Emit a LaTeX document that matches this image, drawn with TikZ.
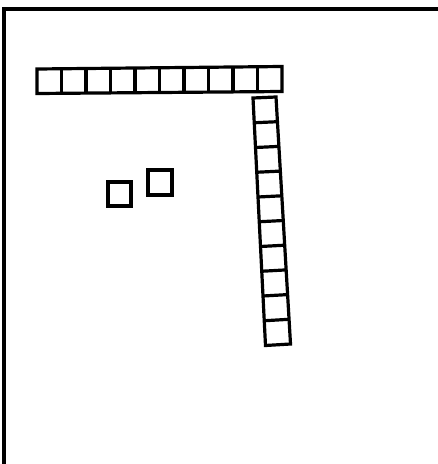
\documentclass[tikz,border=0pt]{standalone}
\usetikzlibrary{calc}
\begin{document}
\begin{tikzpicture}[x=1pt,y=-1pt,line join=miter,
  thick line/.style={line width=3.2pt,draw=black}]
\useasboundingbox (0,0) rectangle (438,464);
\fill[white] (0,0) rectangle (438,464);
% frame (right and bottom edges outside the page)
\draw[thick line] (4,480) -- (4,9) -- (450,9);
% horizontal bar
\coordinate (hA) at (37,69);
\coordinate (hB) at (282,66.5);
\coordinate (hC) at (282,91.5);
\coordinate (hD) at (37,93.5);
\draw[thick line] (hA) -- (hB) -- (hC) -- (hD) -- cycle;
\foreach \i in {1,...,9}{
  \draw[thick line] ($(hA)!\i/10!(hB)$) -- ($(hD)!\i/10!(hC)$);
}
% vertical bar
\coordinate (vA) at (253,98);
\coordinate (vB) at (276,97);
\coordinate (vC) at (290.5,344);
\coordinate (vD) at (265.5,345.5);
\draw[thick line] (vA) -- (vB) -- (vC) -- (vD) -- cycle;
\foreach \i in {1,...,9}{
  \draw[thick line] ($(vA)!\i/10!(vD)$) -- ($(vB)!\i/10!(vC)$);
}
% two small squares
\draw[thick line] (108,182) rectangle (131,206);
\draw[thick line] (148,170) rectangle (172,195);
\end{tikzpicture}
\end{document}
